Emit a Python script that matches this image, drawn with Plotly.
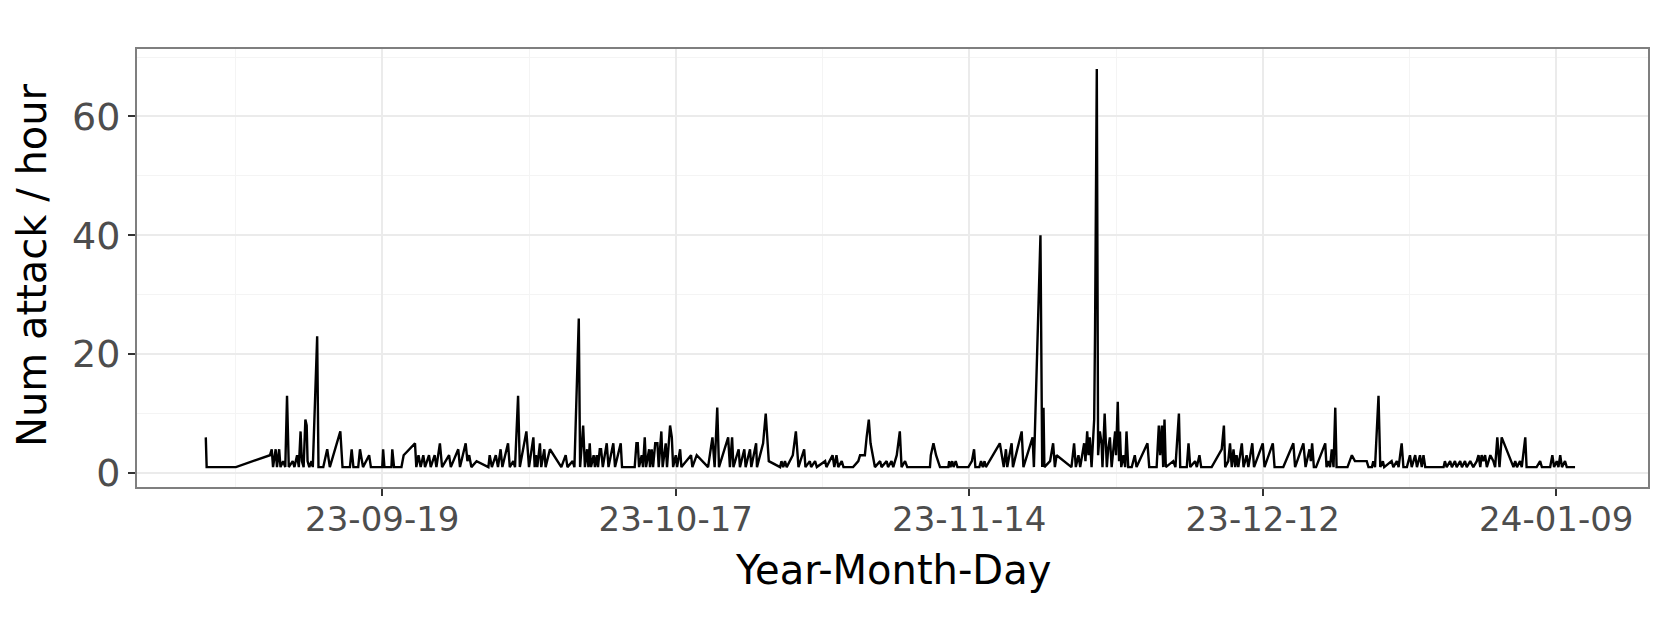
import pandas as pd
import plotly.graph_objects as go

# hourly attack counts (only hours with at least one attack), "DD HH" per month
sep_hours = ["02 04", "02 06", "05 01", "08 07", "08 11", "08 14", "08 20", "08 23", "09 04", "09 07",
             "09 13", "09 18", "09 22", "10 02", "10 11", "10 15", "10 21", "11 01", "11 05", "11 08",
             "11 12", "11 16", "11 19", "11 21", "12 01", "12 06", "12 09", "12 19", "12 22", "13 09",
             "13 18", "14 00", "15 00", "15 05", "15 22", "16 02", "16 06", "16 17", "16 21", "17 01",
             "17 04", "17 18", "17 22", "19 00", "19 02", "19 05", "19 21", "19 23", "20 03", "20 20",
             "21 01", "22 03", "22 06", "22 11", "22 16", "22 22", "23 02", "23 11", "23 15", "24 00",
             "24 04", "24 12", "24 17", "25 09", "25 13", "26 06", "26 10", "26 23", "27 03", "27 07",
             "27 12", "28 00", "29 03", "29 06", "29 11", "29 20", "30 01", "30 07", "30 11"]
sep_counts = [6, 1, 1, 3, 4, 1, 4, 1, 4, 1,
              2, 1, 13, 1, 2, 1, 3, 1, 7, 2,
              1, 9, 8, 2, 1, 2, 1, 23, 1, 1,
              4, 1, 7, 1, 1, 4, 1, 1, 4, 2,
              1, 3, 1, 1, 4, 1, 1, 4, 1, 1,
              3, 5, 1, 3, 1, 3, 1, 3, 1, 3,
              1, 5, 1, 3, 1, 4, 1, 5, 2, 3,
              1, 2, 1, 3, 1, 3, 1, 4, 1]

oct_hours = ["01 00", "01 04", "01 12", "01 16", "01 23", "02 03", "02 18", "03 00", "03 10", "03 13",
             "03 16", "03 19", "04 01", "04 04", "04 11", "04 14", "05 00", "06 02", "06 12", "06 16",
             "07 04", "07 08", "07 18", "07 21", "08 04", "08 08", "08 13", "08 16", "08 19", "08 22",
             "09 04", "09 07", "09 11", "09 14", "09 18", "09 21", "10 01", "10 10", "10 14", "11 01",
             "11 05", "11 18", "11 21", "13 02", "13 06", "13 09", "13 12", "13 18", "13 21", "14 01",
             "14 04", "14 11", "14 13", "14 17", "14 20", "15 01", "15 06", "15 09", "15 15", "15 18",
             "16 01", "16 04", "16 11", "16 15", "16 18", "17 00", "17 03", "17 10", "17 13", "18 11",
             "18 14", "19 00", "20 02", "20 12", "20 17", "20 23", "21 03", "22 00", "22 04", "22 09",
             "22 12", "23 00", "23 03", "23 13", "23 16", "24 02", "24 05", "24 16", "24 18", "25 08",
             "25 14", "25 21", "26 23", "27 02", "27 06", "27 10", "27 14", "28 04", "28 11", "28 17",
             "29 06", "29 09", "29 19", "29 22", "30 07", "30 11", "31 06", "31 09", "31 23"]
oct_counts = [5, 1, 2, 1, 13, 1, 7, 1, 6, 1,
              3, 1, 5, 1, 4, 1, 4, 1, 3, 1,
              2, 1, 26, 1, 8, 1, 4, 1, 5, 1,
              3, 1, 3, 1, 4, 4, 1, 5, 1, 5,
              1, 5, 1, 1, 5, 5, 1, 3, 1, 6,
              1, 4, 1, 4, 1, 5, 5, 1, 7, 1,
              5, 1, 8, 6, 1, 3, 1, 4, 1, 3,
              1, 3, 1, 6, 1, 11, 1, 6, 1, 6,
              1, 4, 1, 4, 1, 4, 1, 5, 1, 5,
              10, 2, 1, 2, 1, 2, 1, 3, 7, 1,
              4, 1, 2, 1, 2, 1, 2, 1, 3]

nov_hours = ["01 03", "01 08", "01 12", "01 20", "02 00", "02 22", "03 10", "03 14", "04 01", "04 05",
             "04 10", "04 14", "04 19", "05 00", "05 12", "05 15", "06 03", "06 06", "06 14", "06 18",
             "07 02", "07 09", "07 13", "07 21", "08 02", "10 06", "10 08", "10 14", "10 20", "11 05",
             "12 00", "12 02", "12 05", "12 09", "12 12", "12 17", "12 21", "13 22", "14 06", "14 11",
             "14 14", "14 23", "15 03", "15 07", "15 11", "15 14", "16 22", "17 07", "17 12", "17 15",
             "18 01", "18 04", "19 00", "19 04", "20 01", "20 04", "20 19", "20 23", "21 02", "21 04",
             "21 17", "22 00", "22 04", "22 08", "23 18", "24 00", "24 04", "24 10", "24 14", "24 20",
             "24 23", "25 02", "25 06", "25 09", "25 12", "25 16", "25 22", "26 00", "26 04", "26 07",
             "26 11", "26 15", "26 17", "26 22", "27 03", "27 06", "27 10", "27 14", "27 18", "27 22",
             "28 00", "28 04", "28 07", "28 09", "28 12", "28 17", "28 21", "29 00", "29 04", "29 12",
             "29 19", "29 23"]
nov_counts = [1, 3, 1, 2, 1, 1, 2, 3, 3, 6,
              9, 5, 3, 1, 2, 1, 2, 1, 2, 1,
              3, 7, 1, 2, 1, 1, 3, 5, 3, 1,
              1, 2, 1, 2, 1, 2, 1, 1, 2, 4,
              1, 1, 2, 1, 2, 1, 5, 1, 4, 1,
              5, 1, 7, 1, 6, 1, 40, 1, 11, 1,
              2, 5, 1, 3, 1, 5, 1, 3, 1, 4,
              5, 2, 7, 3, 6, 1, 9, 24, 68, 3,
              7, 5, 1, 10, 1, 4, 6, 1, 4, 7,
              3, 12, 2, 7, 1, 3, 1, 7, 1, 1,
              3, 1]

dec_hours = ["01 00", "01 04", "01 21", "02 02", "02 05", "02 09", "02 12", "02 15", "02 18", "03 11",
             "03 16", "04 00", "04 03", "04 18", "04 22", "05 02", "05 13", "05 17", "05 23", "06 03",
             "07 03", "08 02", "08 07", "08 10", "08 17", "08 21", "09 01", "09 05", "09 09", "09 12",
             "09 16", "10 00", "10 04", "10 11", "10 15", "11 00", "11 04", "12 00", "12 04", "12 23",
             "13 03", "13 23", "14 22", "15 02", "15 21", "16 02", "16 11", "16 14", "16 17", "16 21",
             "17 02", "17 23", "18 02", "18 06", "18 10", "18 14", "18 18", "18 22", "19 01", "20 02",
             "20 12", "20 19", "21 22", "22 02", "22 10", "22 13", "22 17", "23 01", "23 05", "23 11",
             "23 14", "24 07", "24 11", "24 19", "24 23", "25 06", "25 10", "25 18", "26 01", "26 05",
             "26 13", "26 17", "27 00", "27 04", "27 08", "27 12", "29 06", "29 09", "29 13", "29 21",
             "30 01", "30 08", "30 12", "30 20", "31 00", "31 07", "31 11", "31 19"]
dec_counts = [5, 1, 1, 8, 3, 8, 1, 9, 1, 2,
              1, 10, 1, 1, 5, 1, 2, 1, 3, 1,
              1, 4, 8, 1, 2, 5, 1, 4, 1, 3,
              1, 5, 1, 3, 1, 5, 1, 5, 1, 5,
              1, 1, 5, 1, 5, 1, 4, 2, 5, 1,
              1, 5, 1, 2, 1, 4, 1, 11, 1, 1,
              3, 2, 2, 1, 1, 2, 1, 13, 1, 2,
              1, 2, 1, 2, 1, 5, 1, 1, 3, 1,
              3, 1, 3, 1, 3, 1, 1, 2, 1, 2,
              1, 2, 1, 2, 1, 2, 1, 2]

jan_hours = ["01 02", "01 10", "01 14", "01 18", "01 21", "02 01", "02 05", "02 09", "02 17", "03 00",
             "03 04", "03 09", "03 14", "03 19", "04 22", "05 02", "05 06", "05 13", "05 17", "06 01",
             "06 04", "07 03", "07 11", "07 15", "08 10", "08 15", "08 19", "09 01", "09 05", "09 09",
             "09 13", "09 20", "10 00", "10 19"]
jan_counts = [1, 2, 3, 1, 3, 2, 3, 1, 3, 2,
              1, 6, 1, 6, 1, 2, 1, 2, 1, 6,
              1, 1, 2, 1, 1, 3, 1, 2, 1, 3,
              1, 2, 1, 1]

months = [("2023-09", sep_hours), ("2023-10", oct_hours), ("2023-11", nov_hours),
          ("2023-12", dec_hours), ("2024-01", jan_hours)]
times = []
for prefix, hours in months:
    times += [f"{prefix}-{h[:2]} {h[3:]}:00" for h in hours]
counts = sep_counts + oct_counts + nov_counts + dec_counts + jan_counts

df = pd.DataFrame({"time": pd.to_datetime(times), "count": counts})

FONT = "DejaVu Sans"
DAY = 86400000

fig = go.Figure(go.Scatter(x=df["time"], y=df["count"], mode="lines",
                           line=dict(color="black", width=2.4), showlegend=False))

fig.update_layout(
    width=1661, height=623,
    margin=dict(l=137, r=13, t=49, b=136),
    paper_bgcolor="white", plot_bgcolor="white",
    font=dict(family=FONT),
)

axis_common = dict(
    showline=True, mirror=True, linecolor="#7f7f7f", linewidth=2,
    ticks="outside", ticklen=7, tickwidth=2, tickcolor="#333333",
    showgrid=True, gridcolor="#ebebeb", gridwidth=2, zeroline=False,
)

fig.update_xaxes(
    type="date", range=["2023-08-26 14:30", "2024-01-17 18:00"],
    tickmode="linear", tick0="2023-09-19", dtick=28 * DAY, tickformat="%y-%m-%d",
    tickfont=dict(family=FONT, size=34, color="#4d4d4d"),
    minor=dict(tick0="2023-09-05", dtick=14 * DAY, showgrid=True,
               gridcolor="#f4f4f4", gridwidth=1, ticks=""),
    ticklabelstandoff=-6,
    **axis_common,
)
fig.update_yaxes(
    range=[-2.35, 71.35], tickmode="linear", tick0=0, dtick=20,
    tickfont=dict(family=FONT, size=38, color="#4d4d4d"),
    minor=dict(tick0=0, dtick=10, showgrid=True, gridcolor="#f4f4f4", gridwidth=1, ticks=""),
    ticklabelstandoff=0,
    **axis_common,
)

fig.add_annotation(text="Year-Month-Day", xref="paper", yref="paper", x=0.5, y=0,
                   xanchor="center", yanchor="middle", yshift=-83, showarrow=False,
                   font=dict(family=FONT, size=40, color="black"))
fig.add_annotation(text="Num attack / hour", xref="paper", yref="paper", x=0, y=0.5,
                   xanchor="center", yanchor="middle", xshift=-105, yshift=3, textangle=-90,
                   showarrow=False, font=dict(family=FONT, size=40, color="black"))

fig.write_html("out.html", config={"displayModeBar": False},
               post_script="document.body.style.margin = '0';")
